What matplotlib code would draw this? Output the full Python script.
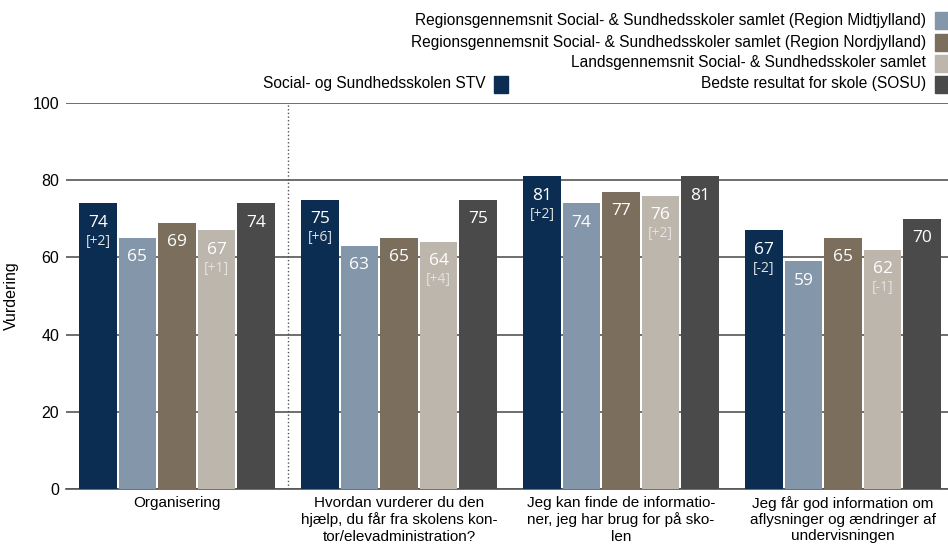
import matplotlib.pyplot as plt
from matplotlib.patches import Rectangle
import numpy as np

plt.rcParams['font.family'] = ['Liberation Sans', 'DejaVu Sans']

categories = ['Organisering',
              'Hvordan vurderer du den\nhjælp, du får fra skolens kon-\ntor/elevadministration?',
              'Jeg kan finde de informatio-\nner, jeg har brug for på sko-\nlen',
              'Jeg får god information om\naflysninger og ændringer af\nundervisningen']
series = ['Social- og Sundhedsskolen STV',
          'Regionsgennemsnit Social- & Sundhedsskoler samlet (Region Midtjylland)',
          'Regionsgennemsnit Social- & Sundhedsskoler samlet (Region Nordjylland)',
          'Landsgennemsnit Social- & Sundhedsskoler samlet',
          'Bedste resultat for skole (SOSU)']
values = [[74, 75, 81, 67],
          [65, 63, 74, 59],
          [69, 65, 77, 65],
          [67, 64, 76, 62],
          [74, 75, 81, 70]]
changes = [['[+2]', '[+6]', '[+2]', '[-2]'],
           ['', '', '', ''],
           ['', '', '', ''],
           ['[+1]', '[+4]', '[+2]', '[-1]'],
           ['', '', '', '']]
colors = ['#0b2d52', '#8496aa', '#7b6e5d', '#bdb6ad', '#4a4a4a']

fig = plt.figure(figsize=(9.48, 5.49), dpi=100)
ax = fig.add_axes([66/948, 1-489/549, 1-66/948, (489-103)/549])

x = np.arange(len(categories))
step = 0.178
width = 0.167
for i, (name, vals) in enumerate(zip(series, values)):
    pos = x + (i - 2) * step
    ax.bar(pos, vals, width=width, color=colors[i], zorder=3)
    for p, v, c in zip(pos, vals, changes[i]):
        ax.text(p, v - 5.0, str(v), ha='center', va='center', color='white',
                fontsize=12.5, family=['Open Sans', 'DejaVu Sans'], zorder=4)
        if c:
            ax.text(p, v - 9.8, c, ha='center', va='center', color='#e2e2e2',
                    fontsize=10, family=['Open Sans', 'DejaVu Sans'], zorder=4)

ax.set_xlim(-0.5, -0.5 + 882/222)
ax.set_ylim(0, 100)
ax.set_yticks([0, 20, 40, 60, 80, 100])
ax.yaxis.grid(True, color='#555555', linewidth=1.2, zorder=0)
ax.axvline(0.5, color='#555555', linestyle=':', linewidth=1, zorder=2)
for s in ['top', 'right', 'left']:
    ax.spines[s].set_visible(False)
ax.spines['bottom'].set_color('#555555')
ax.spines['bottom'].set_linewidth(1.2)
ax.tick_params(length=0, labelsize=11.5)
ax.tick_params(axis='y', pad=5)
ax.set_xticks(x)
ax.set_xticklabels(categories, fontsize=11, linespacing=1.2)
ax.tick_params(axis='x', pad=5)
ax.set_ylabel('Vurdering', fontsize=11.5, labelpad=10)

# legend drawn by hand
sq_w, sq_h = 14/948, 17/549
right_entries = [(1, 20), (2, 42), (3, 63), (4, 84)]
for idx, ypix in right_entries:
    fig.text(926/948, 1 - ypix/549, series[idx], ha='right', va='center', fontsize=11.2)
    fig.patches.append(Rectangle((935/948, 1 - ypix/549 - sq_h/2), sq_w, sq_h,
                                 transform=fig.transFigure, color=colors[idx]))
fig.text(486/948, 1 - 84/549, series[0], ha='right', va='center', fontsize=11.2)
fig.patches.append(Rectangle((494/948, 1 - 84/549 - sq_h/2), sq_w, sq_h,
                             transform=fig.transFigure, color=colors[0]))

fig.savefig('out.png', dpi=100)
